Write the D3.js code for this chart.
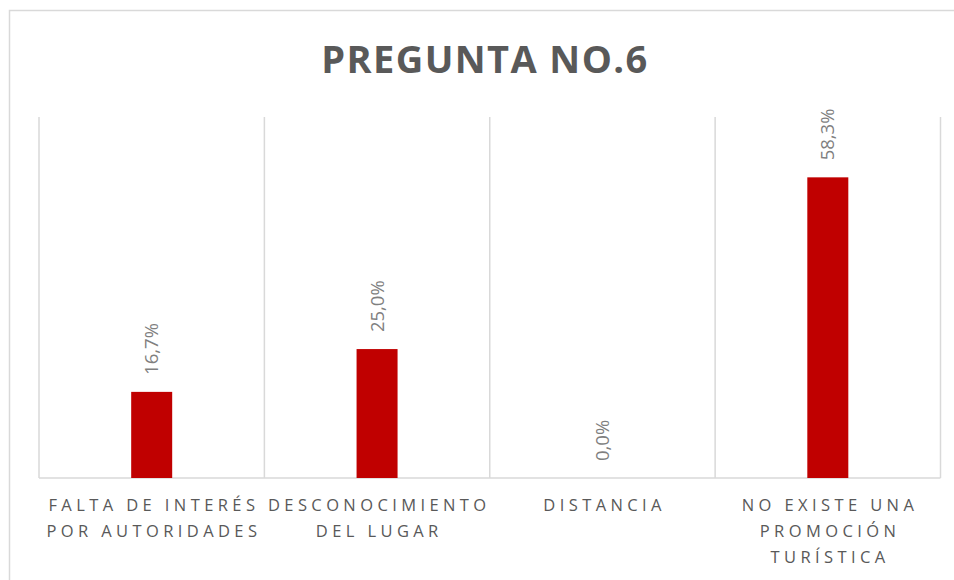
<!DOCTYPE html>
<html>
<head>
<meta charset="utf-8">
<script src="https://cdn.jsdelivr.net/npm/d3@7"></script>
<style>
  body { margin: 0; background: #fff; }
  text { font-family: "Open Sans", sans-serif; }
</style>
</head>
<body>
<div id="container"></div>
<script>
// data
const categories = ["FALTA DE INTERÉS POR AUTORIDADES", "DESCONOCIMIENTO DEL LUGAR", "DISTANCIA", "NO EXISTE UNA PROMOCIÓN TURÍSTICA"];
const tickLines = [
    ["FALTA DE INTERÉS", "POR AUTORIDADES"],
    ["DESCONOCIMIENTO", "DEL LUGAR"],
    ["DISTANCIA"],
    ["NO EXISTE UNA", "PROMOCIÓN", "TURÍSTICA"]
];
const values = [0.167, 0.25, 0.0, 0.583];
const valueLabels = ["16,7%", "25,0%", "0,0%", "58,3%"];

function main() {
    const width = 954, height = 580;
    const svg = d3.select("#container")
        .append("svg")
        .attr("width", width)
        .attr("height", height);

    // chart area border
    svg.append("rect")
        .attr("x", 9.5)
        .attr("y", 10.5)
        .attr("width", 960)
        .attr("height", 600)
        .attr("fill", "#fff")
        .attr("stroke", "#d9d9d9")
        .attr("stroke-width", 1.5);

    svg.append("text")
        .attr("x", 485)
        .attr("y", 73)
        .attr("text-anchor", "middle")
        .attr("font-size", 38)
        .attr("font-weight", "bold")
        .attr("letter-spacing", 1.4)
        .attr("fill", "#595959")
        .text("PREGUNTA NO.6");

    const plot = { left: 39, right: 940.5, top: 117, bottom: 478 };

    let x = d3.scaleBand()
        .domain(categories)
        .range([plot.left, plot.right]);
    let y = d3.scaleLinear()
        .domain([0, 0.7])
        .range([plot.bottom, plot.top]);

    // vertical gridlines between categories
    const edges = categories.map(c => x(c)).concat([plot.right]);
    svg.append("g")
        .selectAll("line")
        .data(edges)
        .join("line")
        .attr("x1", d => d)
        .attr("x2", d => d)
        .attr("y1", plot.top)
        .attr("y2", plot.bottom)
        .attr("stroke", "#d9d9d9")
        .attr("stroke-width", 1.5);

    svg.append("line")
        .attr("x1", plot.left)
        .attr("x2", plot.right)
        .attr("y1", plot.bottom)
        .attr("y2", plot.bottom)
        .attr("stroke", "#d9d9d9")
        .attr("stroke-width", 1.5);

    const barW = 41;
    svg.append("g")
        .selectAll("rect")
        .data(values)
        .join("rect")
        .attr("x", (d, i) => x(categories[i]) + x.bandwidth() / 2 - barW / 2)
        .attr("y", d => y(d))
        .attr("width", barW)
        .attr("height", d => y(0) - y(d))
        .attr("fill", "#c00000");

    // rotated data labels
    svg.append("g")
        .selectAll("text")
        .data(values)
        .join("text")
        .attr("transform", (d, i) => `translate(${x(categories[i]) + x.bandwidth() / 2 + 6.5},${y(d) - 17}) rotate(-90)`)
        .attr("font-size", 18.5)
        .attr("fill", "#7f7f7f")
        .text((d, i) => valueLabels[i]);

    // category labels
    const ticks = svg.append("g")
        .selectAll("text")
        .data(categories)
        .join("text")
        .attr("text-anchor", "middle")
        .attr("font-size", 16.5)
        .attr("letter-spacing", 4.4)
        .attr("fill", "#595959")
        .attr("transform", d => `translate(${x(d) + x.bandwidth() / 2 + 2.2},511)`);
    ticks.selectAll("tspan")
        .data((d, i) => tickLines[i])
        .join("tspan")
        .attr("x", 0)
        .attr("y", (d, i) => i * 26)
        .text(d => d);
}
main();
</script>
</body>
</html>
